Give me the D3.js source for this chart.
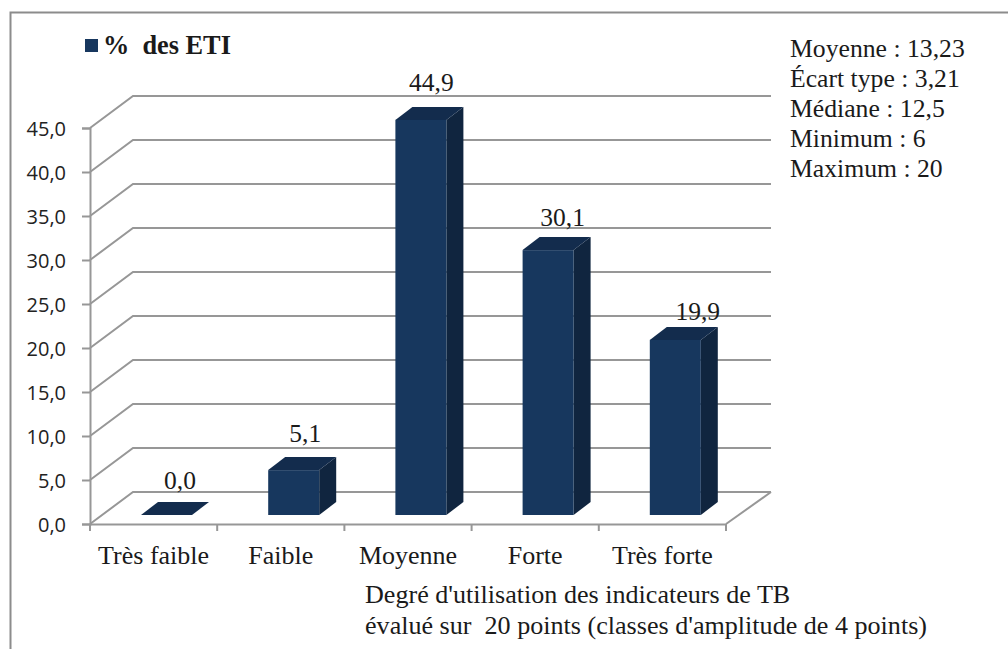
<!DOCTYPE html>
<html>
<head>
<meta charset="utf-8">
<script src="https://cdn.jsdelivr.net/npm/d3@7"></script>
<style>
html, body { margin: 0; padding: 0; background: #fff; overflow: hidden; }
svg { display: block; }
.serif { font-family: "Liberation Serif", serif; fill: #1a1a1a; }
.tick-y { font-family: "Open Sans", sans-serif; font-size: 20px; fill: #222; }
</style>
</head>
<body>
<div id="container"></div>
<script>
const categories = ["Très faible", "Faible", "Moyenne", "Forte", "Très forte"];
const values = [0.0, 5.1, 44.9, 30.1, 19.9];
const valueLabels = ["0,0", "5,1", "44,9", "30,1", "19,9"];
const yTicks = [0, 5, 10, 15, 20, 25, 30, 35, 40, 45];
const statLines = ["Moyenne : 13,23", "Écart type : 3,21", "Médiane : 12,5", "Minimum : 6", "Maximum : 20"];
const xTitleLines = ["Degré d'utilisation des indicateurs de TB", "évalué sur  20 points (classes d'amplitude de 4 points)"];
const legendLabel = "%  des ETI";

const width = 1008;
const height = 649;
const grey = "#979797";
const barFront = "#17375e";
const barTop = "#132c4d";
const barSide = "#10253f";

// oblique offset of the back wall
const wallDx = 43;
const wallDy = -32;
// offset of a bar's depth
const barDx = 17;
const barDy = -13;

// labels were placed by hand in the original
const labelShiftX = [39, 37, 36, 40, 48];
const labelLift = [26, 28, 29, 24, 20];

const svg = d3.select("div#container").append("svg")
    .attr("width", width)
    .attr("height", height);

const x = d3.scaleBand().domain(categories).range([90, 726]);
const y = d3.scaleLinear().domain([0, 45]).range([524, 128]);
const barHeight = d3.scaleLinear().domain([0, 45]).range([0, 396]);

// outer frame, only left and top show
svg.append("path")
    .attr("d", "M10.5," + height + "V12.5H" + width)
    .attr("fill", "none")
    .attr("stroke", "#8c8c8c")
    .attr("stroke-width", 2);

// back wall lines
const wall = svg.append("g").attr("fill", "none").attr("stroke", grey).attr("stroke-width", 2);
wall.selectAll("path").data(yTicks).enter().append("path")
    .attr("d", function(d) {
        return "M90," + y(d) + "L" + (90 + wallDx) + "," + (y(d) + wallDy) + "H771";
    });

// floor edge on the right
wall.append("path").attr("d", "M726," + y(0) + "L771," + (y(0) + wallDy));

// axes
const yaxis = d3.axisLeft(y).tickValues(yTicks).tickSize(8).tickFormat(function() { return ""; });
const xaxis = d3.axisBottom(x).tickSize(0).tickFormat(function() { return ""; });

const gy = svg.append("g").attr("transform", "translate(90,0)").call(yaxis);
gy.selectAll("path, line").attr("stroke", grey).attr("stroke-width", 2);

const gx = svg.append("g").attr("transform", "translate(0," + y(0) + ")").call(xaxis);
gx.select("path").attr("stroke", grey).attr("stroke-width", 2);
gx.selectAll("line").remove();

// category separators below the floor
svg.append("g").selectAll("line").data(categories.concat(["end"])).enter().append("line")
    .attr("x1", function(d, i) { return 90 + i * x.step(); })
    .attr("x2", function(d, i) { return 90 + i * x.step(); })
    .attr("y1", y(0))
    .attr("y2", y(0) + 7)
    .attr("stroke", grey)
    .attr("stroke-width", 2);

svg.append("g").selectAll("text").data(yTicks).enter().append("text")
    .attr("class", "tick-y")
    .attr("x", 66)
    .attr("y", function(d) { return y(d) + 8; })
    .attr("text-anchor", "end")
    .text(function(d) { return d3.format(".1f")(d).replace(".", ","); });

// bars
const barW = 51;
const floorLift = -9;
const bars = svg.selectAll(".bar").data(values).enter().append("g").attr("class", "bar");

function barLeft(i) { return x(categories[i]) + 51; }
function barBase() { return y(0) + floorLift; }
function barTopY(d) { return barBase() - barHeight(d); }

bars.append("path")
    .attr("fill", barSide)
    .attr("d", function(d, i) {
        const r = barLeft(i) + barW;
        return "M" + r + "," + barTopY(d) + "l" + barDx + "," + barDy + "V" + (barBase() + barDy) + "L" + r + "," + barBase() + "Z";
    });
bars.append("path")
    .attr("fill", barTop)
    .attr("d", function(d, i) {
        const l = barLeft(i);
        return "M" + l + "," + barTopY(d) + "l" + barDx + "," + barDy + "h" + barW + "l" + (-barDx) + "," + (-barDy) + "Z";
    });
bars.append("rect")
    .attr("fill", barFront)
    .attr("x", function(d, i) { return barLeft(i); })
    .attr("y", function(d) { return barTopY(d); })
    .attr("width", barW)
    .attr("height", function(d) { return barHeight(d); });

// value labels
svg.append("g").selectAll("text").data(values).enter().append("text")
    .attr("class", "serif")
    .attr("font-size", 25.5)
    .attr("text-anchor", "middle")
    .attr("x", function(d, i) { return barLeft(i) + labelShiftX[i]; })
    .attr("y", function(d, i) { return barTopY(d) - labelLift[i]; })
    .text(function(d, i) { return valueLabels[i]; });

// category labels
svg.append("g").selectAll("text").data(categories).enter().append("text")
    .attr("class", "serif")
    .attr("font-size", 26)
    .attr("text-anchor", "middle")
    .attr("x", function(d) { return x(d) + x.bandwidth() / 2; })
    .attr("y", 564)
    .text(function(d) { return d; });

// legend
svg.append("rect").attr("x", 85).attr("y", 39).attr("width", 13).attr("height", 13).attr("fill", barFront);
svg.append("text")
    .attr("class", "serif")
    .attr("x", 103)
    .attr("y", 54)
    .attr("font-size", 26.3)
    .attr("font-weight", "bold")
    .style("white-space", "pre")
    .text(legendLabel);

// stats box
svg.append("g").selectAll("text").data(statLines).enter().append("text")
    .attr("class", "serif")
    .attr("font-size", 25.7)
    .attr("x", 790)
    .attr("y", function(d, i) { return 56.5 + i * 30; })
    .text(function(d) { return d; });

// axis title
svg.append("g").selectAll("text").data(xTitleLines).enter().append("text")
    .attr("class", "serif")
    .attr("font-size", 26.1)
    .attr("x", 365)
    .attr("y", function(d, i) { return 602.5 + i * 31; })
    .style("white-space", "pre")
    .text(function(d) { return d; });
</script>
</body>
</html>
